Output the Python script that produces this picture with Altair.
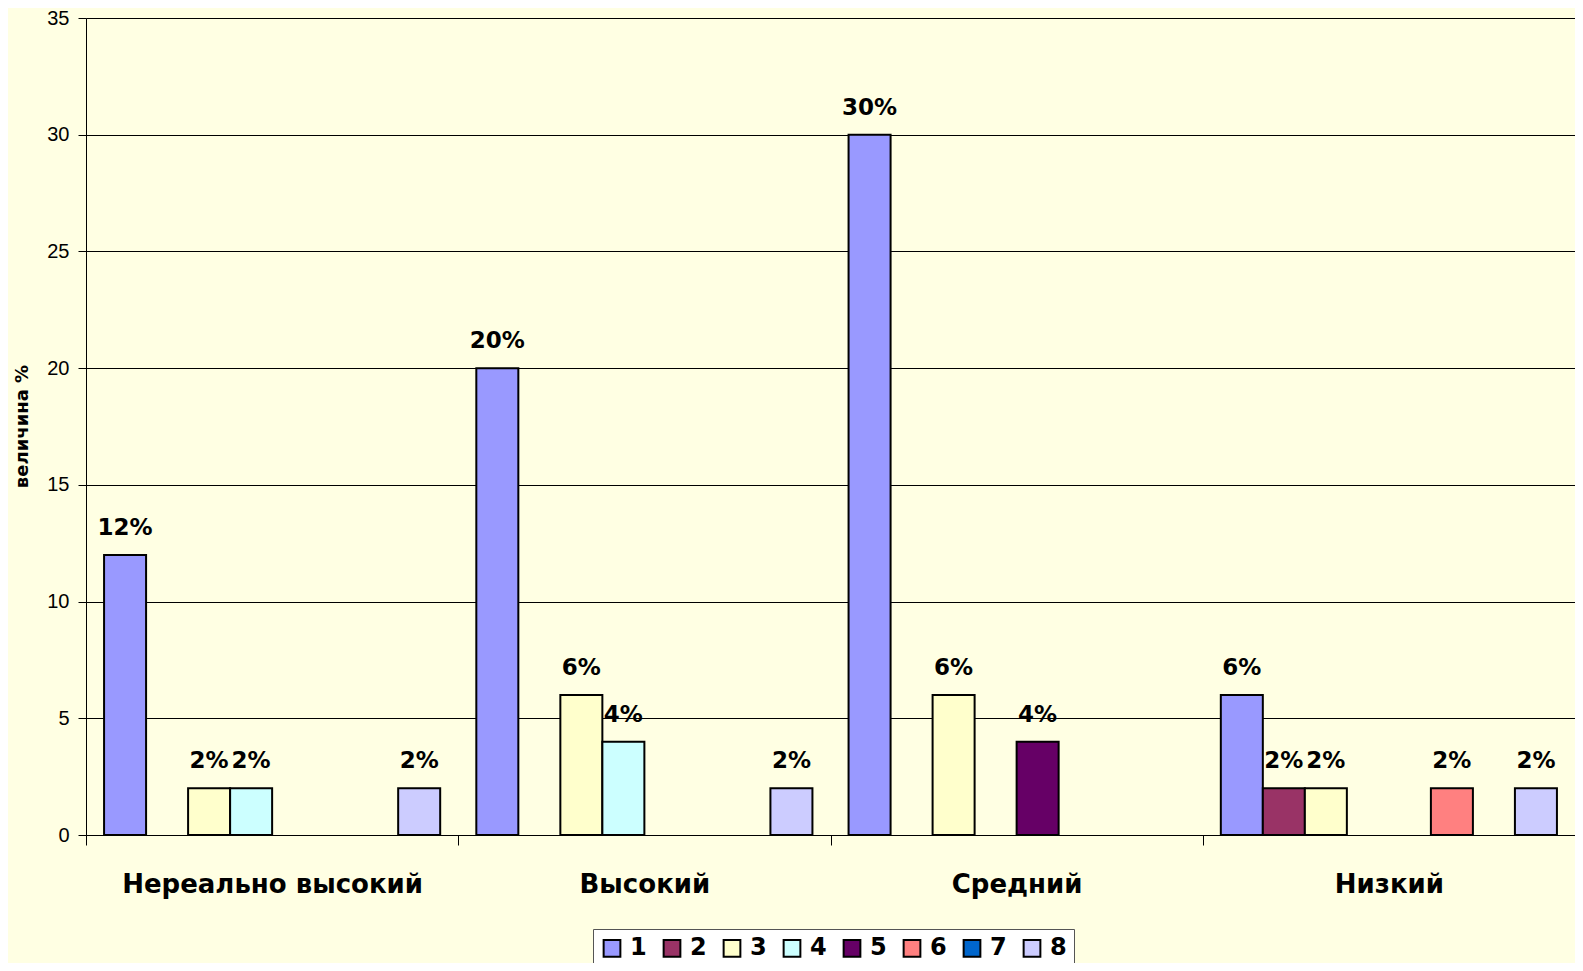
import altair as alt
import pandas as pd

categories = ["Нереально высокий", "Высокий", "Средний", "Низкий"]
series = ["1", "2", "3", "4", "5", "6", "7", "8"]
colors = ["#9999FF", "#993366", "#FFFFCC", "#CCFFFF", "#660066", "#FF8080", "#0066CC", "#CCCCFF"]

row_cat = ["Нереально высокий"] * 4 + ["Высокий"] * 4 + ["Средний"] * 3 + ["Низкий"] * 5
row_ser = ["1", "3", "4", "8", "1", "3", "4", "8", "1", "3", "5", "1", "2", "3", "6", "8"]
row_val = [12, 2, 2, 2, 20, 6, 4, 2, 30, 6, 4, 6, 2, 2, 2, 2]

df = pd.DataFrame({"cat": row_cat, "ser": row_ser, "val": row_val})
df["label"] = df["val"].astype(str) + "%"

BG = "#FFFFE3"

x = alt.X(
    "cat:N",
    sort=categories,
    scale=alt.Scale(domain=categories, paddingInner=0, paddingOuter=0),
    axis=alt.Axis(
        title=None, tickBand="extent", labelAngle=0, labelFont="DejaVu Sans",
        labelFontSize=26, labelFontWeight="bold", labelColor="black",
        labelPadding=26, tickSize=10, tickColor="black", domainColor="black",
        labelBaseline="top", labelLimit=0,
    ),
)
xo = alt.XOffset("ser:N", scale=alt.Scale(domain=series, paddingInner=0, paddingOuter=0.43))
y = alt.Y(
    "val:Q",
    scale=alt.Scale(domain=[0, 35], nice=False),
    axis=alt.Axis(
        values=[0, 5, 10, 15, 20, 25, 30, 35], title="величина %", grid=True,
        gridColor="black", gridWidth=1, tickSize=8, tickColor="black",
        domainColor="black", labelFont="Liberation Sans", labelFontSize=20,
        labelColor="black", labelPadding=9, titleFont="DejaVu Sans",
        titleFontSize=18, titleFontWeight="bold", titleColor="black",
        titleAngle=-90, titleX=-64, titleY=408, titleAlign="center",
        titleBaseline="middle",
    ),
)
color = alt.Color(
    "ser:N",
    scale=alt.Scale(domain=series, range=colors),
    legend=alt.Legend(
        orient="none", legendX=507, legendY=911, direction="horizontal",
        columns=8, title=None, symbolType="square", symbolSize=280,
        symbolStrokeColor="black", symbolStrokeWidth=2, labelFont="DejaVu Sans",
        labelFontSize=24, labelFontWeight="bold", labelColor="black",
        fillColor="white", strokeColor="#555555", padding=7,
        columnPadding=12, labelOffset=6,
    ),
)

bars = alt.Chart(df).mark_bar(stroke="black", strokeWidth=2).encode(
    x=x, xOffset=xo, y=y, color=color
)
text = alt.Chart(df).mark_text(
    baseline="bottom", dy=-15, font="DejaVu Sans", fontSize=23,
    fontWeight="bold", color="black",
).encode(x=x, xOffset=xo, y=alt.Y("val:Q"), text="label:N")

chart = (
    alt.layer(bars, text)
    .properties(
        width=1489, height=817,
        autosize=alt.AutoSizeParams(type="none"),
        padding={"left": 78, "top": 10, "right": 0, "bottom": 128},
        background=BG,
    )
    .configure_view(strokeWidth=0, fill=BG)
)

chart.save("out.html", embed_options={"renderer": "svg", "actions": False})
